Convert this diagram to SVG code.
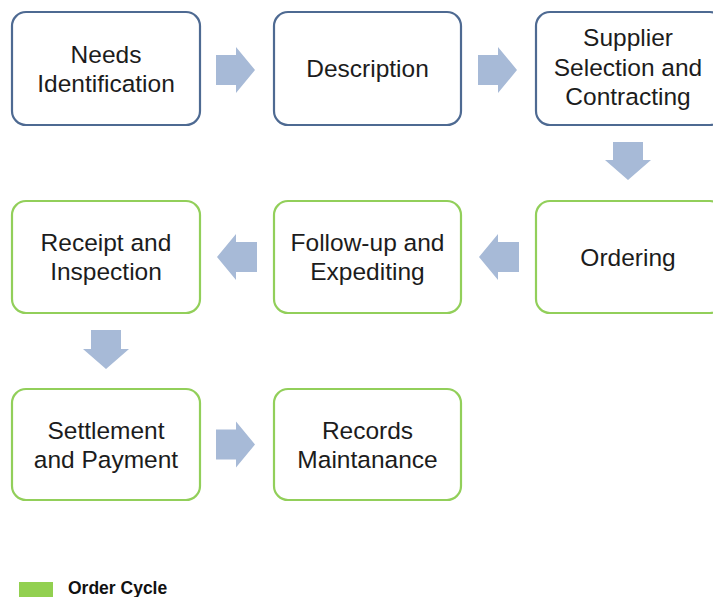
<svg xmlns="http://www.w3.org/2000/svg" width="713" height="597" viewBox="0 0 713 597">
<style>
  .box { fill: #ffffff; stroke-width: 2.2; }
  .blue { stroke: #4e6a92; }
  .green { stroke: #92cf5a; }
  .lbl { font-family: "Liberation Sans", Arial, sans-serif; font-size: 24.5px; fill: #1c1c1c; text-anchor: middle; }
  .arrow { fill: #a7bad7; stroke: none; }
  .legend { font-family: "Liberation Sans", Arial, sans-serif; font-size: 17.5px; font-weight: bold; fill: #111111; }
</style>
<rect width="713" height="597" fill="#ffffff"/>

<g id="connectors">
  <!-- Needs -> Description -->
  <polygon class="arrow" points="216,55 236,55 236,47 255,70 236,93 236,85 216,85"/>
  <!-- Description -> Supplier -->
  <polygon class="arrow" points="478,55 498,55 498,47 517,70 498,93 498,85 478,85"/>
  <!-- Supplier -> Ordering -->
  <polygon class="arrow" points="613,142 643,142 643,160 651,160 628,180 605,160 613,160"/>
  <!-- Ordering -> Follow-up -->
  <polygon class="arrow" points="519,242 519,272 498,272 498,280 479,257 498,234 498,242"/>
  <!-- Follow-up -> Receipt -->
  <polygon class="arrow" points="257,242 257,272 236,272 236,280 217,257 236,234 236,242"/>
  <!-- Receipt -> Settlement -->
  <polygon class="arrow" points="91,330 121,330 121,349 129,349 106,369 83,349 91,349"/>
  <!-- Settlement -> Records -->
  <polygon class="arrow" points="216,429.5 236,429.5 236,421.5 255,444.5 236,467.5 236,459.5 216,459.5"/>
</g>

<g id="needs">
  <rect class="box blue" x="12" y="12" width="188" height="113" rx="14"/>
  <text class="lbl" x="106" y="62.5">Needs</text>
  <text class="lbl" x="106" y="91.5">Identification</text>
</g>
<g id="description">
  <rect class="box blue" x="274" y="12" width="187" height="113" rx="14"/>
  <text class="lbl" x="367.5" y="77">Description</text>
</g>
<g id="supplier">
  <rect class="box blue" x="536" y="12" width="188" height="113" rx="14"/>
  <text class="lbl" x="628" y="46">Supplier</text>
  <text class="lbl" x="628" y="75.5">Selection and</text>
  <text class="lbl" x="628" y="105">Contracting</text>
</g>

<g id="receipt">
  <rect class="box green" x="12" y="201" width="188" height="112" rx="14"/>
  <text class="lbl" x="106" y="251">Receipt and</text>
  <text class="lbl" x="106" y="280">Inspection</text>
</g>
<g id="followup">
  <rect class="box green" x="274" y="201" width="187" height="112" rx="14"/>
  <text class="lbl" x="367.5" y="251">Follow-up and</text>
  <text class="lbl" x="367.5" y="280">Expediting</text>
</g>
<g id="ordering">
  <rect class="box green" x="536" y="201" width="188" height="112" rx="14"/>
  <text class="lbl" x="628" y="265.5">Ordering</text>
</g>

<g id="settlement">
  <rect class="box green" x="12" y="389" width="188" height="111" rx="14"/>
  <text class="lbl" x="106" y="439">Settlement</text>
  <text class="lbl" x="106" y="468">and Payment</text>
</g>
<g id="records">
  <rect class="box green" x="274" y="389" width="187" height="111" rx="14"/>
  <text class="lbl" x="367.5" y="439">Records</text>
  <text class="lbl" x="367.5" y="468">Maintanance</text>
</g>

<g id="legend">
  <rect x="19" y="582" width="34" height="16" fill="#92d050"/>
  <text class="legend" x="68" y="594">Order Cycle</text>
</g>
</svg>
